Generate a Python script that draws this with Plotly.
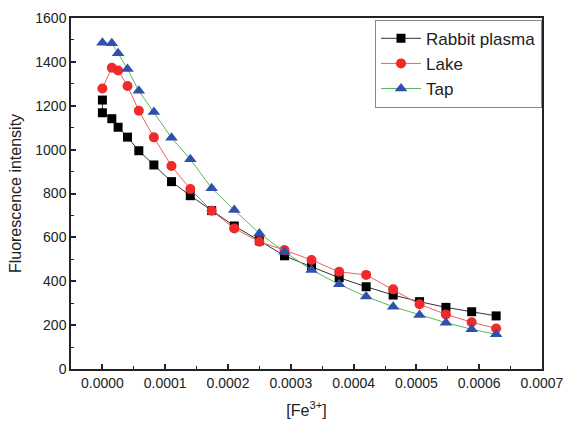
import plotly.graph_objects as go

conc = [0, 0.000015, 0.000025, 0.00004, 0.000058, 0.000082, 0.00011, 0.00014,
        0.000174, 0.00021, 0.00025, 0.00029, 0.000333, 0.000377, 0.00042,
        0.000463, 0.000505, 0.000547, 0.000588, 0.000627]

rabbit_x = [0.0] + conc
rabbit = [1226, 1168, 1141, 1102, 1057, 995, 930, 854, 790, 722, 652, 585, 516,
          466, 416, 375, 337, 307, 281, 261, 242]
lake = [1279, 1373, 1361, 1290, 1177, 1056, 925, 820, 721, 641, 580, 542, 497,
        443, 429, 363, 295, 249, 213, 185]
tap = [1487, 1485, 1439, 1367, 1268, 1171, 1054, 956, 824, 725, 618, 535, 451,
       386, 330, 284, 246, 211, 181, 158]

x_ticks = [0, 0.0001, 0.0002, 0.0003, 0.0004, 0.0005, 0.0006, 0.0007]
y_ticks = [0, 200, 400, 600, 800, 1000, 1200, 1400, 1600]

FONT = "Liberation Sans, Arial"

fig = go.Figure()
fig.add_trace(go.Scatter(x=rabbit_x, y=rabbit, mode="lines+markers", name="Rabbit plasma",
                         line=dict(color="#333333", width=1),
                         marker=dict(symbol="square", size=9, color="#000000")))
fig.add_trace(go.Scatter(x=conc, y=lake, mode="lines+markers", name="Lake",
                         line=dict(color="#f06060", width=1),
                         marker=dict(symbol="circle", size=10, color="#ee2a2a")))
fig.add_trace(go.Scatter(x=conc, y=tap, mode="lines+markers", name="Tap",
                         line=dict(color="#5cb85c", width=1),
                         marker=dict(symbol="triangle-up", size=11, color="#3050b0")))

axis_common = dict(showline=True, linecolor="#222222", linewidth=1.5, mirror=True,
                   ticks="inside", ticklen=5, tickwidth=1.5, tickcolor="#222222",
                   showgrid=False, zeroline=False, automargin=False,
                   ticklabeloverflow="allow",
                   tickfont=dict(family=FONT, size=14, color="#222222"))

fig.update_xaxes(range=[-0.00005, 0.00070001], tickvals=x_ticks, tickformat=".4f",
                 minor=dict(ticks="inside", ticklen=3, tickwidth=1.2, tickcolor="#222222",
                            dtick=0.00005, tick0=-0.00005),
                 title=dict(text="[Fe<sup>3+</sup>]", font=dict(family=FONT, size=16, color="#222222"), standoff=15),
                 **axis_common)
fig.update_yaxes(range=[0, 1600], tickvals=y_ticks,
                 minor=dict(ticks="inside", ticklen=3, tickwidth=1.2, tickcolor="#222222",
                            dtick=100, tick0=0),
                 title=dict(text="Fluorescence intensity", font=dict(family=FONT, size=16, color="#222222"), standoff=10),
                 **axis_common)

fig.update_layout(
    width=563, height=421,
    margin=dict(l=71, r=21, t=18, b=52),
    paper_bgcolor="white", plot_bgcolor="white",
    font=dict(family=FONT, color="#222222"),
    legend=dict(x=1.0, y=0.995, xanchor="right", yanchor="top",
                bordercolor="#888888", borderwidth=1, bgcolor="white",
                font=dict(size=17, color="#222222"), tracegroupgap=0,
                itemwidth=40),
    showlegend=True,
)

fig.write_html("out.html", config={"displayModeBar": False},
               post_script="document.body.style.margin='0';document.body.style.overflow='hidden';")
